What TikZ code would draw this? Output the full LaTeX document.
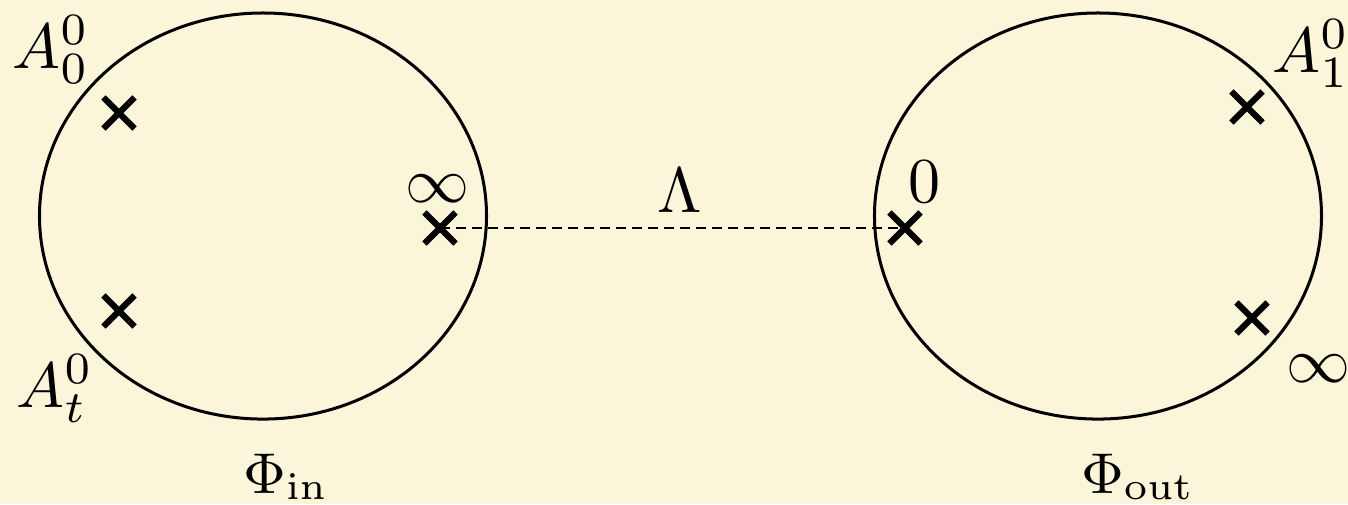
\documentclass[tikz,border=0pt]{standalone}
\usetikzlibrary{shapes.geometric,shapes.misc}
\definecolor{paper}{RGB}{251,245,218}
\tikzset{
  disc/.style={ellipse, draw=black, line width=0.47pt, minimum width=69.85pt, minimum height=63.45pt, inner sep=0pt},
  puncture/.style={cross out, draw=black, line width=0.95pt, minimum size=3.9pt, inner sep=0pt},
  lbl/.style={anchor=base, inner sep=0pt, font=\normalsize},
  biglbl/.style={anchor=base, inner sep=0pt, font=\small},
  link/.style={dash pattern=on 1.56pt off 0.94pt, line width=0.31pt}
}
\begin{document}
\begin{tikzpicture}[x=0.15625pt, y=-0.15625pt]
  \fill[paper] (0,0) rectangle (1348,504);
  \useasboundingbox (0,0) rectangle (1348,504);

  % the two discs
  \node[disc] (din)  at (263,216) {};
  \node[disc] (dout) at (1098,216) {};

  % punctures on the incoming disc
  \node[puncture] (a0)   at (119,113) {};
  \node[puncture] (at)   at (119,311) {};
  \node[puncture] (inf1) at (440,228) {};

  % punctures on the outgoing disc
  \node[puncture] (z0)   at (905,228) {};
  \node[puncture] (a1)   at (1247,107) {};
  \node[puncture] (inf2) at (1252,318) {};

  % propagator joining the discs
  \draw[link] (inf1.center) -- (z0.center);

  % labels
  \node[lbl] (la0)   at (51,68)    {$A_0^0$};
  \node[lbl] (lat)   at (55,407)   {$A_t^0$};
  \node[lbl] (linf1) at (438,202)  {$\infty$};
  \node[lbl] (lz0)   at (924,202)  {$0$};
  \node[lbl] (llam)  at (680,212)  {$\Lambda$};
  \node[lbl] (la1)   at (1311,72)  {$A_1^0$};
  \node[lbl] (linf2) at (1318,382) {$\infty$};
  \node[biglbl] (lin)  at (286,493)  {$\Phi_{\mathrm{in}}$};
  \node[biglbl] (lout) at (1138,493) {$\Phi_{\mathrm{out}}$};
\end{tikzpicture}
\end{document}
